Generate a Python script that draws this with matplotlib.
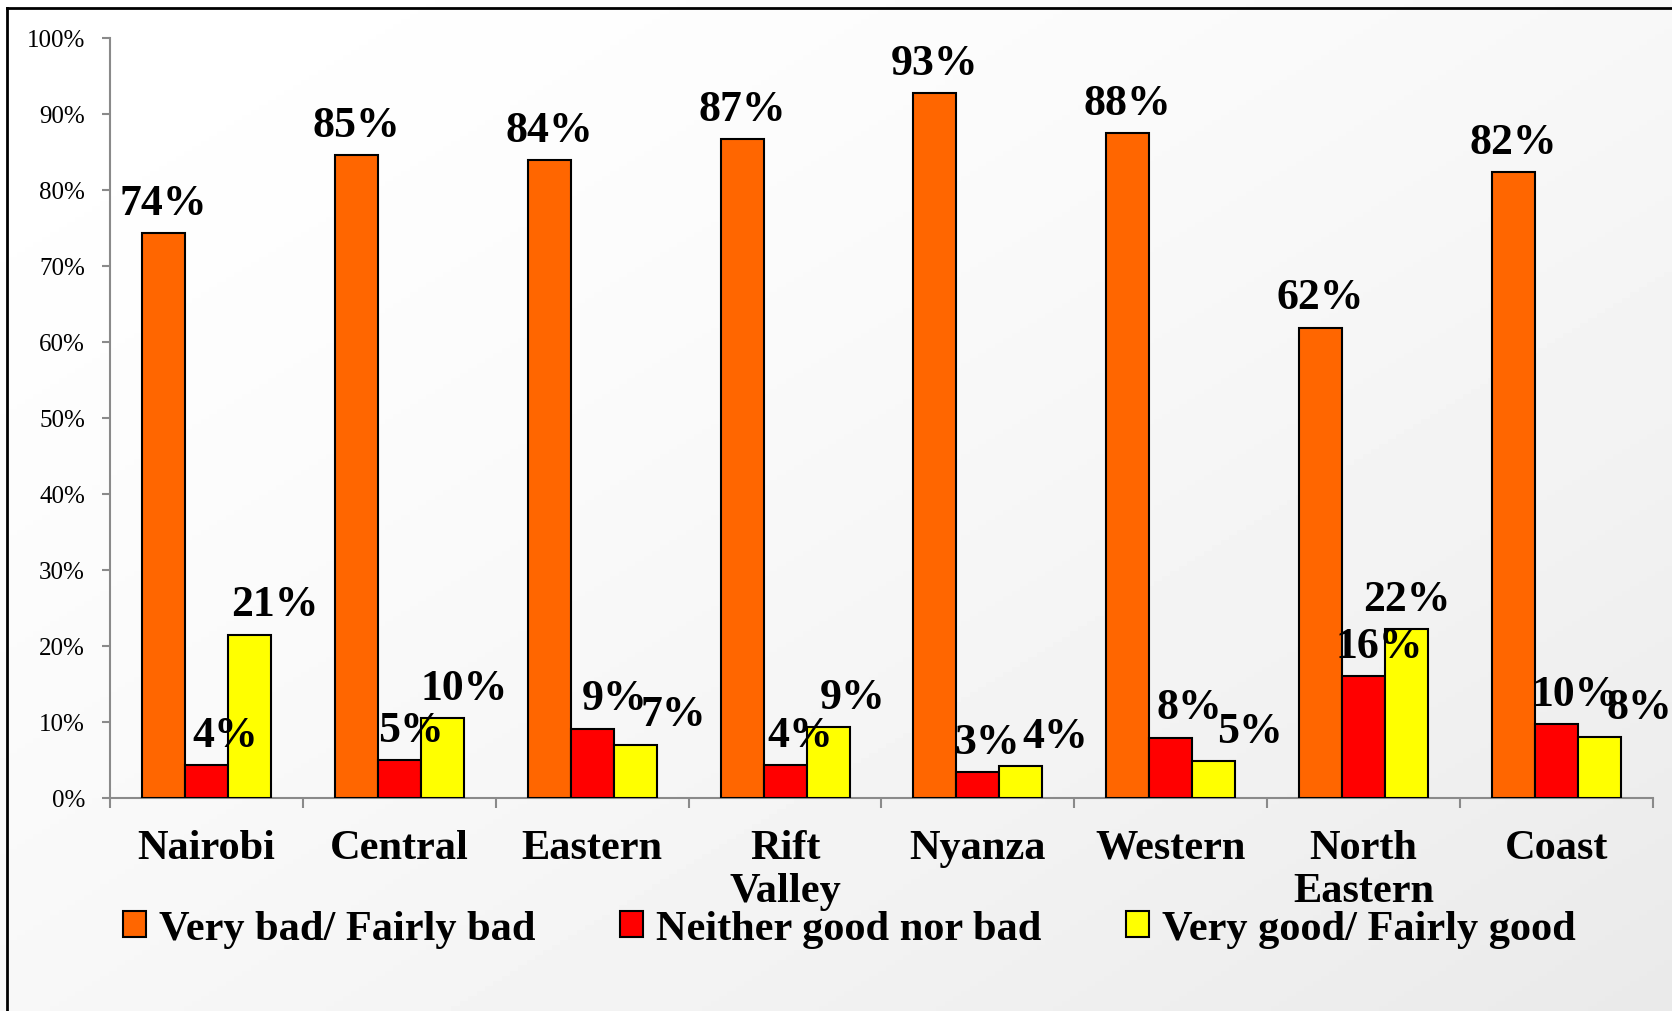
import numpy as np
import matplotlib
matplotlib.use("Agg")
from matplotlib import pyplot as plt
from matplotlib.patches import Patch
from matplotlib.lines import Line2D

regions = ["Nairobi", "Central", "Eastern", "Rift\nValley", "Nyanza",
           "Western", "North\nEastern", "Coast"]
series_names = ["Very bad/ Fairly bad", "Neither good nor bad", "Very good/ Fairly good"]
very_bad = [74.3, 84.6, 83.9, 86.7, 92.7, 87.5, 61.9, 82.3]
neither = [4.3, 5.0, 9.1, 4.3, 3.4, 7.9, 16.0, 9.7]
very_good = [21.5, 10.5, 7.0, 9.3, 4.2, 4.8, 22.2, 8.0]
labels_bad = ["74%", "85%", "84%", "87%", "93%", "88%", "62%", "82%"]
labels_neither = ["4%", "5%", "9%", "4%", "3%", "8%", "16%", "10%"]
labels_good = ["21%", "10%", "7%", "9%", "4%", "5%", "22%", "8%"]

plt.rcParams['font.family'] = ['Liberation Serif', 'DejaVu Serif']

fig = plt.figure(figsize=(16.72, 10.12), dpi=100)

# soft diagonal background like the slide
bg = fig.add_axes([0, 0, 1, 1], zorder=-10)
gx, gy = np.meshgrid(np.linspace(0, 1, 200), np.linspace(0, 1, 200))
grad = 1 - 0.085 * np.clip((gx + gy) / 2, 0, 1) ** 1.5
bg.imshow(grad, cmap='gray', vmin=0, vmax=1, extent=[0, 1, 0, 1], aspect='auto')
bg.axis('off')

# slide frame (left and top edges)
fig.add_artist(Line2D([7 / 1672, 7 / 1672], [0, 1 - 9 / 1012], transform=fig.transFigure,
                      color='black', lw=2))
fig.add_artist(Line2D([7 / 1672, 1], [1 - 9 / 1012, 1 - 9 / 1012], transform=fig.transFigure,
                      color='black', lw=2))

ax = fig.add_axes([0.0658, 0.2105, 0.9228, 0.7510])
ax.patch.set_alpha(0)

x = np.arange(len(regions))
w = 0.223
colors = ['#FF6600', '#FF0000', '#FFFF00']
bars = []
for i, (vals, col) in enumerate(zip([very_bad, neither, very_good], colors)):
    b = ax.bar(x + (i - 1) * w, vals, w, color=col, edgecolor='black', linewidth=1.5, zorder=3)
    bars.append(b)

# data labels (Excel nudged the small ones sideways)
dx_bad = [0] * 8
dx_neither = [19, 12, 22, 15, 9, 19, 16, 19]
dx_good = [25, 22, 38, 25, 34, 36, 0, 40]
for b, labs, dxs in zip(bars, [labels_bad, labels_neither, labels_good], [dx_bad, dx_neither, dx_good]):
    for rect, lab, dx in zip(b, labs, dxs):
        ax.annotate(lab, (rect.get_x() + rect.get_width() / 2, rect.get_height()),
                    xytext=(dx * 0.72, 14), textcoords='offset points',
                    ha='center', va='baseline', fontsize=31.5, fontweight='bold', zorder=5)

ax.set_ylim(0, 100)
ax.set_xlim(-0.5, len(regions) - 0.5)
ax.set_yticks(np.arange(0, 101, 10))
ax.set_yticklabels([f"{v}%" for v in range(0, 101, 10)])
ax.tick_params(axis='y', length=6, width=1.5, color='#8a8a8a', pad=12, labelsize=18)

ax.set_xticks(x)
ax.set_xticklabels(regions, fontsize=30.5, fontweight='bold', linespacing=1.2)
ax.set_xticks(np.arange(-0.5, len(regions)), minor=True)
ax.tick_params(axis='x', which='major', length=0, pad=22)
ax.tick_params(axis='x', which='minor', length=7, width=1.5, color='#8a8a8a')

for s in ['top', 'right']:
    ax.spines[s].set_visible(False)
for s in ['left', 'bottom']:
    ax.spines[s].set_color('#8a8a8a')
    ax.spines[s].set_linewidth(1.5)

handles = [Patch(facecolor=c, edgecolor='black', linewidth=1.5) for c in colors]
fig.legend(handles, series_names, loc='center', bbox_to_anchor=(0.508, 0.081), ncol=3,
           frameon=False, prop={'size': 30.5, 'weight': 'bold'},
           handlelength=0.55, handleheight=0.55, handletextpad=0.3, columnspacing=2.0)

fig.savefig("out.png", dpi=100)
